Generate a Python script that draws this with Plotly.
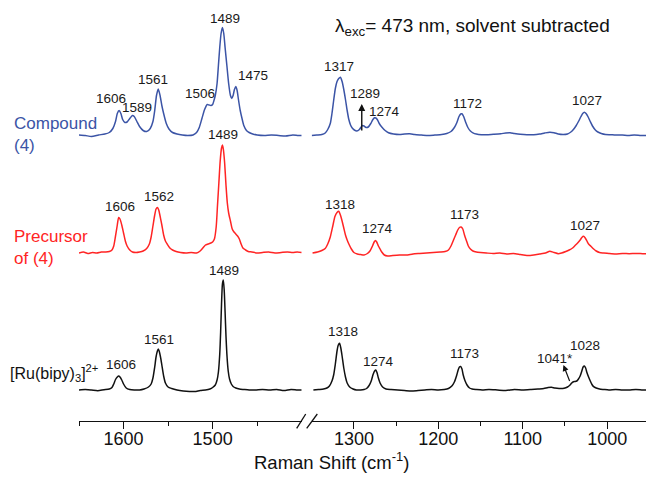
import plotly.graph_objects as go

# ---------------- data (Raman shift in cm-1, intensity in arbitrary units above each baseline) -------------
# Compound (4)
blue_left_x = [1650,1643,1636,1628,1621,1616,1612,1609,1607,1605,1603,1601,1598.5,1596,1593,1590,1588,1585,1582,1578,
               1574,1570,1567,1565,1563,1561,1559,1557,1555,1552,1549,1545,1540,1534,1528,1522,1518,1515,1512,1509,
               1506,1504,1502,1500,1498.5,1497,1495,1493.5,1492,1490.5,1489,1487.5,1486,1484,1482,1480,1478.5,1477,1475.5,1474,
               1472.5,1471,1469,1467,1465,1462,1459,1455,1450,1442,1434,1426,1418,1410,1404,1400]
blue_left_y = [0.5,0,-1,0.5,1.5,3,7,14,22,25,22,16,13,13.5,17,20,19,14,9,5,
               4,7,14,25,40,46.5,40,30,22,12,6.5,3,1.5,0.5,0,0.5,3,8,17,26,
               31,30.5,30,31,35,40,52,70,88,102,108,102,88,70,52,40,37,40,46,49,
               45,36,25,17,10,5,3,1.5,0.5,0,0.5,0,-0.5,0.5,0,0]
blue_right_x = [1350,1344,1338,1334,1331,1328,1326,1324,1322,1320,1318,1316,1314,1312,1310,1308,1306,1304,1302,1299.5,
                1296.5,1293.5,1291,1289.5,1288,1285.5,1283,1280,1277.5,1275.5,1274,1272,1270,1267,1263,1259,1253,1246,1240,1234,
                1228,1220,1212,1204,1196,1190,1185,1181,1178,1175.5,1173.5,1172,1170,1167.5,1165,1162,1159,1155,1149,1142,
                1134,1126,1120,1115,1110,1103,1095,1087,1080,1074,1068,1063,1058,1052,1047,1043,1040,1037,1034,1031,
                1029,1027,1025,1022.5,1020,1017,1014,1011,1007,1002,996,990,982,975,968,960,954]
blue_right_y = [0,0.5,1,2.5,6,12,22,35,47,54,57,58.3,54,46,36,25,16,10.5,7.5,5.5,
                4.5,6,9,10,9.5,8,8.5,12,16,17.7,17.5,15.5,12,8.5,5,2.7,1.5,1,1.5,1.7,
                1,0.5,0,0.5,1,2,4,8,13,19,21.5,21.7,19,13,8,4.5,2.7,1.5,0.8,0.7,
                1.2,1.8,2.5,2.7,2,1.2,0.7,0.8,1.5,2.5,3.3,2.8,1.5,1,1.5,3.5,6,9.5,14,19,
                22,23.3,22,18.5,14,9,5.5,3.5,2,1,0.8,0.5,0.5,0,0.5,0,0]

# Precursor of (4)
red_left_x = [1650,1645,1640,1635,1630,1625,1620,1616,1613,1611,1609,1607,1605.5,1604,1602,1600,1598,1596,1593,1590,
              1586,1582,1578,1574,1571,1569,1567,1565,1563.5,1562,1560.5,1559,1557,1555,1553,1551,1548,1545,1541,1536,
              1530,1524,1518,1514,1511,1508,1505,1502,1500,1498,1496,1494.5,1493,1491.5,1490,1489,1488,1486.5,1485,1483.5,
              1482,1480,1478,1476,1474,1472,1470,1468,1466,1463,1460,1456,1450,1444,1437,1430,1423,1416,1410,1405,1400]
red_left_y = [0,1,-0.5,0.5,0,1,1,1.5,3,7,17,28,35.5,34,28,20,12,7,3,1,
              0.5,1,2,4.5,9,16,27,38,44,45.5,43,37,28,18,12,9,5,3,1.5,0.5,
              0,0.5,0,2,5,8,9,10,11,14,26,48,70,92,105,108,104,90,68,50,
              40,32,24,21,19,17,14,9,5,3,1.5,1,0,0.5,1,0,0.5,1,0.5,1,0.5]
red_right_x = [1349,1343,1338,1334,1331,1328,1325,1322.5,1320,1318,1316,1314,1312,1310,1308,1306,1303,1300,1296,1292,
               1288,1284,1281,1278,1276,1274.5,1273,1271,1269,1267,1264,1260,1254,1246,1238,1230,1222,1214,1206,1198,
               1192,1188,1185,1182,1179.5,1177,1175,1173,1171,1169,1167,1164.5,1162,1159,1155,1150,1143,1135,1127,1119,
               1111,1103,1095,1087,1080,1073,1068,1063,1058,1054,1049,1045,1041,1038,1035,1032,1030,1028,1026,1024,
               1022,1019,1016,1013,1009,1004,998,990,982,974,966,958,954]
red_right_y = [0,1,2.5,4.5,9,16,27,36.5,40.5,41.7,38,32,25,18,13,9,4,0.5,-1,-1.5,
               -2,-0.5,2,7,11,12.6,11,7,4,1,-2,-3,-2.5,-2,-2,-1,-0.5,0,0.5,1,
               1.5,3,7,13,18,23,25.5,26,24,18,13,7,4,2,1,0.5,0,-0.5,0,-1,
               -0.5,-1.5,-2.5,-2,-1,0,1.7,0.5,-0.7,0,1.5,3,5,7.5,10,13,15.5,16.7,15,12,
               9,6.5,4,2,0.5,0,-0.5,-1,-0.5,-0.7,-0.5,-0.7,-0.7]

# [Ru(bipy)3]2+
black_left_x = [1650,1643,1636,1629,1622,1616,1613,1611,1609,1607,1605.5,1604,1602,1600,1597,1593,1588,1582,1577,1572,
                1569,1567,1565,1563.5,1562,1561,1560,1558.5,1557,1555,1553,1550,1546,1540,1533,1526,1520,1514,1508,1503,
                1500,1497,1495,1493.5,1492,1491,1490,1489,1488,1487,1486,1485,1484,1482.5,1481,1479,1477,1474,1470,1465,
                1459,1452,1444,1436,1428,1420,1412,1405,1400]
black_left_y = [0,0.5,0,-0.7,0.3,1,2.5,6,10.5,13,14,13,10,6,2,0.5,0,0,1,3,
                6,12,23,33,39,41,39,33,25,14,7,3,1.5,0,-1,-1.5,-1.5,-0.5,0,1,
                2.5,5,10,18,36,58,86,106,110,100,78,54,36,19,11,6,3.5,2,1,0.5,
                0,0,0.5,0,0.5,-0.5,0.5,0,0]
black_right_x = [1348,1342,1336,1332,1329,1326,1324,1322,1320,1318.5,1317,1315.5,1314,1312,1310,1308,1305,1301,1297,1292,
                 1288,1285,1282,1279.5,1277.5,1275.5,1274,1272.5,1271,1269,1266,1262,1256,1248,1240,1232,1224,1216,1208,1200,
                 1193,1188,1184,1181,1178.5,1176.5,1175,1173.5,1172,1170.5,1168.5,1166,1163,1160,1155,1148,1140,1130,1120,1110,
                 1100,1090,1082,1075,1070,1066,1062,1057,1051,1047,1044,1042,1040,1038,1036,1034,1032,1030,1028.5,1027,
                 1025.5,1024,1022,1020,1018,1016,1013,1009,1004,998,990,982,974,966,958,954]
black_right_y = [0,0.5,1,2,4,9,15,26,39,45,46.7,42,34,22,13,7,3,1,0,0,
                 0.5,1.5,4.5,9,15,19,20,17,12,7,3,1,0.5,0,-0.5,-1,-0.5,0,0.5,0,
                 0.5,1.5,4,8,14,20,23,23.5,21,15,9.5,5,2,1,0.5,0,0.5,0,-0.5,0.5,
                 0,0.5,1,1.5,2.5,2.8,2,1.5,1.7,3,5,7,8.3,8.5,9,11,14,19,23,24,
                 22,17.5,13,9,5.5,3.3,2,1,0.5,0,0.5,0,0,0.5,0,0]

series_names = ["Compound<br>(4)", "Precursor<br>of (4)", "[Ru(bipy)<sub>3</sub>]<sup>2+</sup>"]

# peak labels: (text, axis, position cm-1, height above baseline)
blue_peaks = [("1606", "x", 1613.6, 37.5), ("1589", "x", 1584.8, 28), ("1561", "x", 1566.8, 56),
              ("1506", "x", 1514.3, 42), ("1489", "x", 1485.9, 117.5), ("1475", "x", 1455.1, 60),
              ("1317", "x2", 1317.3, 69), ("1289", "x2", 1286.8, 42.5), ("1274", "x2", 1264, 24),
              ("1172", "x2", 1165.1, 32.5), ("1027", "x2", 1023.4, 35.5)]
red_peaks = [("1606", "x", 1604.2, 46.3), ("1562", "x", 1560.1, 56.3), ("1489", "x", 1488.1, 118.7),
             ("1318", "x2", 1316.5, 49), ("1274", "x2", 1271.8, 24.7), ("1173", "x2", 1169.5, 38.7),
             ("1027", "x2", 1026.1, 28)]
black_peaks = [("1606", "x", 1602.3, 25.7), ("1561", "x", 1560.4, 51), ("1489", "x", 1487, 120),
               ("1318", "x2", 1313.3, 58.3), ("1274", "x2", 1271.1, 29), ("1173", "x2", 1169.1, 36.7),
               ("1041*", "x2", 1061.7, 31.7), ("1028", "x2", 1026.1, 45)]

# ---------------- styling / layout ----------------
FONT = "Liberation Sans, Arial, sans-serif"
BLUE = "#3b54a6"
RED = "#ff2424"
BLACK = "#111111"
OFF = {"blue": 285.5, "red": 168, "black": 31}

fig = go.Figure()

def add(xs, ys, off, color, axis):
    fig.add_trace(go.Scatter(x=xs, y=[v + off for v in ys], xaxis=axis, yaxis="y", mode="lines",
                             line=dict(color=color, width=1.5, shape="spline", smoothing=0.6),
                             showlegend=False, hoverinfo="skip"))

add(blue_left_x, blue_left_y, OFF["blue"], BLUE, "x")
add(blue_right_x, blue_right_y, OFF["blue"], BLUE, "x2")
add(red_left_x, red_left_y, OFF["red"], RED, "x")
add(red_right_x, red_right_y, OFF["red"], RED, "x2")
add(black_left_x, black_left_y, OFF["black"], BLACK, "x")
add(black_right_x, black_right_y, OFF["black"], BLACK, "x2")

ann = []
for peaks, off in ((blue_peaks, OFF["blue"]), (red_peaks, OFF["red"]), (black_peaks, OFF["black"])):
    for txt, ax, xv, h in peaks:
        ann.append(dict(text=txt, xref=ax, yref="y", x=xv, y=off + h, showarrow=False,
                        xanchor="center", yanchor="middle", font=dict(family=FONT, size=13.5, color="#1a1a1a")))

# arrows
ann.append(dict(text="", xref="x2", yref="y", x=1290.7, y=317, axref="x2", ayref="y", ax=1290.7, ay=289,
                showarrow=True, arrowhead=2, arrowsize=1, arrowwidth=1.4, arrowcolor="#111", standoff=0))
ann.append(dict(text="", xref="x2", yref="y", x=1051.8, y=56, axref="x2", ayref="y", ax=1043.8, ay=38.5,
                showarrow=True, arrowhead=2, arrowsize=1, arrowwidth=1.2, arrowcolor="#111", standoff=0))

# series names
L, W = 79, 567
def px2paper(px):
    return (px - L) / W

for name, yv, col, xl, fs in ((series_names[0], 287, BLUE, 11.5, 17), (series_names[1], 173.5, RED, 11.5, 17),
                              (series_names[2], 47.7, BLACK, 8, 16)):
    ann.append(dict(text=name, xref="paper", yref="y", x=px2paper(xl), y=yv, showarrow=False,
                    xanchor="left", yanchor="middle", align="left",
                    font=dict(family=FONT, size=fs, color=col)))

# title
ann.append(dict(text="λ<sub>exc</sub>= 473 nm, solvent subtracted", xref="paper", yref="paper",
                x=px2paper(333), y=(421 - 27) / 421, xanchor="left", yanchor="middle", showarrow=False,
                font=dict(family=FONT, size=19, color="#111")))
# axis title
ann.append(dict(text="Raman Shift (cm<sup>-1</sup>)", xref="paper", yref="paper",
                x=px2paper(331.5), y=(421 - 461) / 421, xanchor="center", yanchor="middle", showarrow=False,
                font=dict(family=FONT, size=18.5, color="#111")))

shapes = []
for x0, x1 in ((296.7, 305.7), (306.7, 317.3)):
    shapes.append(dict(type="line", xref="paper", yref="paper", x0=px2paper(x0), x1=px2paper(x1),
                       y0=(421 - 428.3) / 421, y1=(421 - 414) / 421, line=dict(color="#111", width=1.3)))

axis_common = dict(showline=True, linecolor="#111", linewidth=1.3, ticks="outside", ticklen=7, tickwidth=1.3,
                   tickcolor="#111", showgrid=False, zeroline=False, anchor="y", ticklabelstandoff=-6,
                   tickfont=dict(family=FONT, size=18, color="#111"))
fig.update_layout(
    width=647, height=477, margin=dict(l=L, r=1, t=0, b=56),
    paper_bgcolor="white", plot_bgcolor="white",
    xaxis=dict(domain=[0, px2paper(301.7)], range=[1650, 1400], tickvals=[1600, 1500],
               minor=dict(tickvals=[1650, 1550, 1450], ticks="outside", ticklen=4, tickwidth=1.3, tickcolor="#111"),
               **axis_common),
    xaxis2=dict(domain=[px2paper(311.7), 1], range=[1350, 954], tickvals=[1300, 1200, 1100, 1000],
                minor=dict(tickvals=[1250, 1150, 1050], ticks="outside", ticklen=4, tickwidth=1.3, tickcolor="#111"),
                **axis_common),
    yaxis=dict(range=[0, 421], visible=False, domain=[0, 1]),
    annotations=ann, shapes=shapes,
)

fig.write_html("out.html")
